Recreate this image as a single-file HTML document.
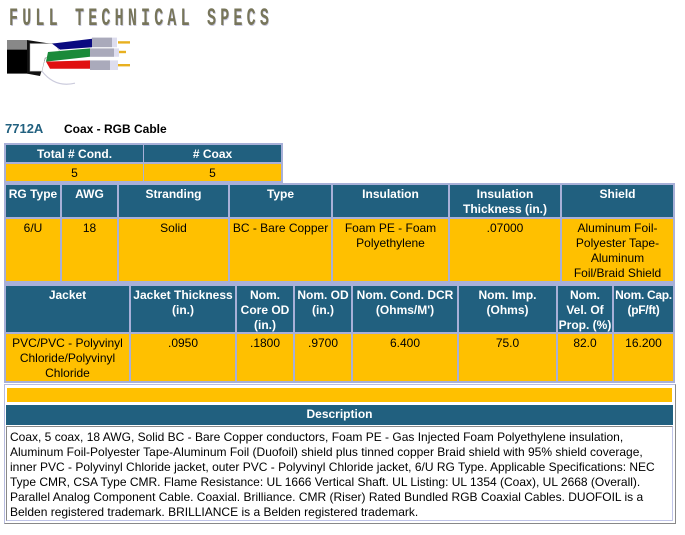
<!DOCTYPE html>
<html><head><style>
*{margin:0;padding:0;box-sizing:border-box}
body{width:685px;height:535px;background:#fff;position:relative;font-family:"Liberation Sans",Arial,sans-serif;overflow:hidden}
.c{position:absolute;font-size:12px;text-align:center;line-height:15px;padding-top:2px}
.h{background:#21607f;color:#fff;font-weight:bold}
.d{background:#ffc000;color:#000}
.b{position:absolute;background:#a8b0d8}
</style></head><body>
<div style="position:absolute;left:9px;top:4px;font-family:'Liberation Mono',monospace;font-size:25px;font-weight:bold;letter-spacing:7px;color:#77755a;text-shadow:1px 1px 0 #c8c8e0;transform:scaleX(0.6);transform-origin:left top;white-space:nowrap">FULL TECHNICAL SPECS</div>
<svg style="position:absolute;left:0;top:28px" width="140" height="60" viewBox="0 0 140 50" preserveAspectRatio="none">
<rect x="7" y="10" width="20" height="8" fill="#888"/>
<rect x="7" y="18" width="22" height="20" fill="#000"/>
<polygon points="27,10 50,13 40,40 27,38" fill="#111"/>
<polygon points="30,13 55,13 60,20 45,25 42,36 30,36" fill="#fff" stroke="#aaa" stroke-width="0.5"/>
<polygon points="52,13 92,9 92,16 60,18" fill="#0a0a80"/>
<polygon points="48,20 90,17 90,24 46,28" fill="#1a8a3a"/>
<polygon points="46,28 90,27 90,34 50,34" fill="#e01010"/>
<rect x="92" y="8" width="20" height="8" fill="#aab"/>
<rect x="90" y="17" width="24" height="7" fill="#aab"/>
<rect x="90" y="27" width="20" height="8" fill="#aab"/>
<rect x="112" y="8" width="5" height="8" fill="#dde"/>
<rect x="114" y="17" width="5" height="7" fill="#dde"/>
<rect x="110" y="27" width="8" height="8" fill="#dde"/>
<line x1="118" y1="12" x2="130" y2="12" stroke="#e8b020" stroke-width="2"/>
<line x1="119" y1="20" x2="126" y2="20" stroke="#e8b020" stroke-width="2"/>
<line x1="118" y1="31" x2="130" y2="31" stroke="#e8b020" stroke-width="2"/>
<path d="M42,36 Q55,50 75,46" stroke="#ccd" fill="none"/>
</svg>
<div style="position:absolute;left:5px;top:121px;font-size:13px;font-weight:bold;color:#21607f">7712A</div>
<div style="position:absolute;left:64px;top:122px;font-size:12px;font-weight:bold;color:#000">Coax - RGB Cable</div>

<div class="b" style="left:4px;top:143px;width:279px;height:40px"></div>
<div class="c h" style="left:6px;top:145px;width:137px;height:17px">Total # Cond.</div>
<div class="c h" style="left:144px;top:145px;width:137px;height:17px">&#35; Coax</div>
<div class="c d" style="left:6px;top:164px;width:137px;height:17px">5</div>
<div class="c d" style="left:144px;top:164px;width:137px;height:17px">5</div>

<div class="b" style="left:4px;top:183px;width:671px;height:200px"></div>
<div class="c h" style="left:6px;top:185px;width:54px;height:32px">RG Type</div>
<div class="c h" style="left:62px;top:185px;width:55px;height:32px">AWG</div>
<div class="c h" style="left:119px;top:185px;width:109px;height:32px">Stranding</div>
<div class="c h" style="left:230px;top:185px;width:101px;height:32px">Type</div>
<div class="c h" style="left:333px;top:185px;width:115px;height:32px">Insulation</div>
<div class="c h" style="left:450px;top:185px;width:110px;height:32px">Insulation Thickness (in.)</div>
<div class="c h" style="left:562px;top:185px;width:111px;height:32px">Shield</div>
<div class="c d" style="left:6px;top:219px;width:54px;height:62px">6/U</div>
<div class="c d" style="left:62px;top:219px;width:55px;height:62px">18</div>
<div class="c d" style="left:119px;top:219px;width:109px;height:62px">Solid</div>
<div class="c d" style="left:230px;top:219px;width:101px;height:62px">BC - Bare Copper</div>
<div class="c d" style="left:333px;top:219px;width:115px;height:62px">Foam PE - Foam<br>Polyethylene</div>
<div class="c d" style="left:450px;top:219px;width:110px;height:62px">.07000</div>
<div class="c d" style="left:562px;top:219px;width:111px;height:62px">Aluminum Foil-<br>Polyester Tape-<br>Aluminum<br>Foil/Braid Shield</div>

<div class="c h" style="left:6px;top:286px;width:123px;height:46px">Jacket</div>
<div class="c h" style="left:131px;top:286px;width:104px;height:46px">Jacket Thickness (in.)</div>
<div class="c h" style="left:237px;top:286px;width:56px;height:46px">Nom.<br>Core OD<br>(in.)</div>
<div class="c h" style="left:295px;top:286px;width:56px;height:46px;white-space:nowrap">Nom. OD<br>(in.)</div>
<div class="c h" style="left:353px;top:286px;width:104px;height:46px">Nom. Cond. DCR<br>(Ohms/M')</div>
<div class="c h" style="left:459px;top:286px;width:97px;height:46px">Nom. Imp.<br>(Ohms)</div>
<div class="c h" style="left:558px;top:286px;width:54px;height:46px;white-space:nowrap">Nom.<br>Vel. Of<br>Prop. (%)</div>
<div class="c h" style="left:614px;top:286px;width:59px;height:46px;white-space:nowrap;letter-spacing:-0.3px">Nom. Cap.<br>(pF/ft)</div>
<div class="c d" style="left:6px;top:334px;width:123px;height:47px">PVC/PVC - Polyvinyl<br>Chloride/Polyvinyl<br>Chloride</div>
<div class="c d" style="left:131px;top:334px;width:104px;height:47px">.0950</div>
<div class="c d" style="left:237px;top:334px;width:56px;height:47px">.1800</div>
<div class="c d" style="left:295px;top:334px;width:56px;height:47px">.9700</div>
<div class="c d" style="left:353px;top:334px;width:104px;height:47px">6.400</div>
<div class="c d" style="left:459px;top:334px;width:97px;height:47px">75.0</div>
<div class="c d" style="left:558px;top:334px;width:54px;height:47px">82.0</div>
<div class="c d" style="left:614px;top:334px;width:59px;height:47px">16.200</div>

<div style="position:absolute;left:4px;top:384px;width:672px;height:140px;border:1px solid #b8bce0;border-right-color:#888;border-bottom-color:#888"></div>
<div style="position:absolute;left:7px;top:388px;width:665px;height:14px;background:#ffc000"></div>
<div class="c h" style="left:6px;top:405px;width:667px;height:20px;font-size:12px">Description</div>
<div style="position:absolute;left:6px;top:426px;width:667px;height:95px;border:1px solid #888;border-right-color:#c0c4e8;border-bottom-color:#c0c4e8;font-size:12px;line-height:15px;padding:3px 3px;color:#000">Coax, 5 coax, 18 AWG, Solid BC - Bare Copper conductors, Foam PE - Gas Injected Foam Polyethylene insulation, Aluminum Foil-Polyester Tape-Aluminum Foil (Duofoil) shield plus tinned copper Braid shield with 95% shield coverage, inner PVC - Polyvinyl Chloride jacket, outer PVC - Polyvinyl Chloride jacket, 6/U RG Type. Applicable Specifications: NEC Type CMR, CSA Type CMR. Flame Resistance: UL 1666 Vertical Shaft. UL Listing: UL 1354 (Coax), UL 2668 (Overall). Parallel Analog Component Cable. Coaxial. Brilliance. CMR (Riser) Rated Bundled RGB Coaxial Cables. DUOFOIL is a Belden registered trademark. BRILLIANCE is a Belden registered trademark.</div>
</body></html>
